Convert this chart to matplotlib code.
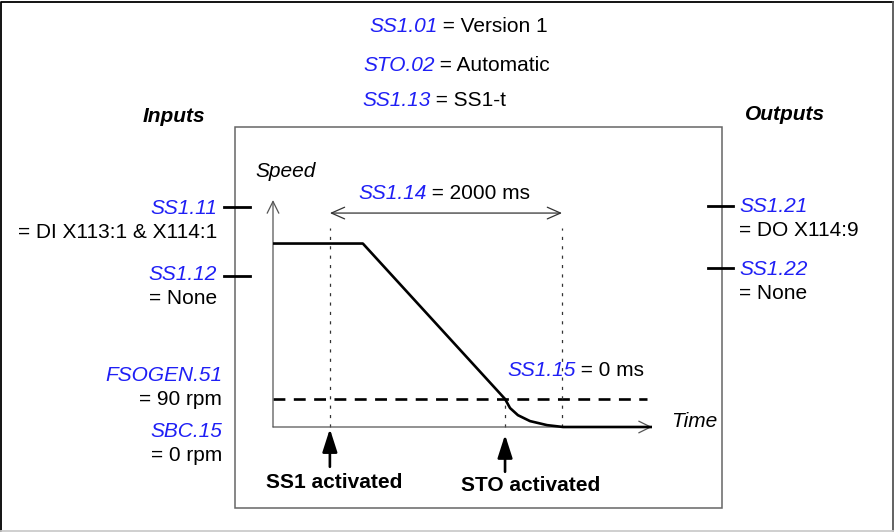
import matplotlib.pyplot as plt
from matplotlib.patches import Rectangle

plt.rcParams['font.family'] = ['Liberation Sans', 'DejaVu Sans']

BLUE = '#1f1ff5'
FS = 15

# speed profile (time in ms from SS1 activation, speed in rpm)
time_ms = [-490, 284, 1509, 1552, 1620, 1724, 1871, 2009, 2775]
speed_rpm = [590, 590, 90, 61, 38, 19, 6, 0, 0]

limit_speed = 90        # FSOGEN.51
ss1_time = 0            # SS1 activated
sto_time = 1509         # STO activated (speed crosses limit)
ss1_delay = 2000        # SS1.14
t_min, t_max = -490, 2775
v_max = 730

top_lines = [("SS1.01", " = Version 1"), ("STO.02", " = Automatic"), ("SS1.13", " = SS1-t")]
inputs = [("SS1.11", "= DI X113:1 & X114:1"), ("SS1.12", "= None")]
limits = [("FSOGEN.51", "= 90 rpm"), ("SBC.15", "= 0 rpm")]
outputs = [("SS1.21", "= DO X114:9"), ("SS1.22", "= None")]

W, H = 895, 532
fig = plt.figure(figsize=(W / 100, H / 100), dpi=100)
ax = fig.add_axes([0, 0, 1, 1])
ax.set_xlim(0, W)
ax.set_ylim(H, 0)
ax.axis('off')

# outer frame
ax.plot([1.5, 1.5, 893], [531, 1.5, 1.5], color='black', lw=1.3)
ax.plot([893, 893], [1.5, 531], color='#555555', lw=1.3)
ax.plot([1.5, 893], [531, 531], color='#cccccc', lw=1.3)
# inner box
ax.add_patch(Rectangle((235.5, 127), 486.5, 381, fill=False, ec='#666666', lw=1.1))


def keyval(x, y, key, rest):
    t = ax.text(x, y, key, color=BLUE, style='italic', fontsize=FS, ha='left', va='baseline')
    ax.annotate(rest, xy=(1, 0), xycoords=t, ha='left', va='bottom', fontsize=FS)


# top settings
for (k, r), x, y in zip(top_lines, [369, 363, 362], [32, 71, 106]):
    keyval(x, y, k, r)

ax.text(174, 122, "Inputs", fontsize=FS, fontweight='bold', style='italic', ha='center', va='baseline')
ax.text(785, 120, "Outputs", fontsize=FS, fontweight='bold', style='italic', ha='center', va='baseline')

# inputs
for (k, r), y, ty in zip(inputs, [214, 280], [207, 276]):
    ax.text(217, y, k, color=BLUE, style='italic', fontsize=FS, ha='right', va='baseline')
    ax.text(217, y + 24, r, fontsize=FS, ha='right', va='baseline')
    ax.plot([224, 250], [ty, ty], color='black', lw=2)

for (k, r), y in zip(limits, [381, 437]):
    ax.text(222, y, k, color=BLUE, style='italic', fontsize=FS, ha='right', va='baseline')
    ax.text(222, y + 24, r, fontsize=FS, ha='right', va='baseline')

# outputs
for (k, r), y, ty in zip(outputs, [212, 275], [206, 268]):
    ax.text(739, y, k, color=BLUE, style='italic', fontsize=FS, ha='left', va='baseline')
    ax.text(739, y + 24, r, fontsize=FS, ha='left', va='baseline')
    ax.plot([708, 733], [ty, ty], color='black', lw=2)

ax.text(255, 177, "Speed", fontsize=FS, style='italic', ha='left', va='baseline')
ax.text(671, 427, "Time", fontsize=FS, style='italic', ha='left', va='baseline')
keyval(358, 199, "SS1.14", " = 2000 ms")
keyval(507, 376, "SS1.15", " = 0 ms")
ax.text(334, 488, "SS1 activated", fontsize=FS, fontweight='bold', ha='center', va='baseline')
ax.text(531, 491, "STO activated", fontsize=FS, fontweight='bold', ha='center', va='baseline')

# speed plot area
x0, x1, y0, y1 = 273, 652, 200, 427
pax = fig.add_axes([x0 / W, 1 - y1 / H, (x1 - x0) / W, (y1 - y0) / H])
pax.set_xlim(t_min, t_max)
pax.set_ylim(0, v_max)
pax.axis('off')

axis_arrow = dict(arrowstyle='->,head_length=0.85,head_width=0.42', color='#555555', lw=0.9,
                  shrinkA=0, shrinkB=0, mutation_scale=10)
pax.annotate('', xy=(t_min, v_max), xytext=(t_min, 0), arrowprops=axis_arrow, annotation_clip=False)
pax.annotate('', xy=(t_max, 0), xytext=(t_min, 0), arrowprops=axis_arrow, annotation_clip=False)

pax.plot([t_min, 2730], [limit_speed, limit_speed], color='black', lw=1.9, ls=(0, (4.5, 3.2)),
         clip_on=False)
pax.plot(time_ms, speed_rpm, color='black', lw=1.9, clip_on=False, solid_capstyle='butt', zorder=3)

dot = dict(color='#333333', lw=0.9, ls=(0, (2.5, 5)), clip_on=False)
pax.plot([ss1_time, ss1_time], [0, 640], **dot)
pax.plot([ss1_delay, ss1_delay], [0, 640], **dot)
pax.plot([sto_time, sto_time], [0, limit_speed], **dot)

pax.annotate('', xy=(ss1_delay, 688), xytext=(ss1_time, 688), annotation_clip=False,
             arrowprops=dict(arrowstyle='<->,head_length=0.95,head_width=0.42', color='#333333',
                             lw=0.9, shrinkA=0, shrinkB=0, mutation_scale=10))

event_arrow = dict(arrowstyle='-|>,head_length=1.4,head_width=0.45', color='black', lw=1.9,
                   shrinkA=0, shrinkB=0, mutation_scale=10)
pax.annotate('', xy=(ss1_time, -6), xytext=(ss1_time, -128), arrowprops=event_arrow, annotation_clip=False)
pax.annotate('', xy=(sto_time, -25), xytext=(sto_time, -144), arrowprops=event_arrow, annotation_clip=False)

fig.savefig('out.png', dpi=100)
